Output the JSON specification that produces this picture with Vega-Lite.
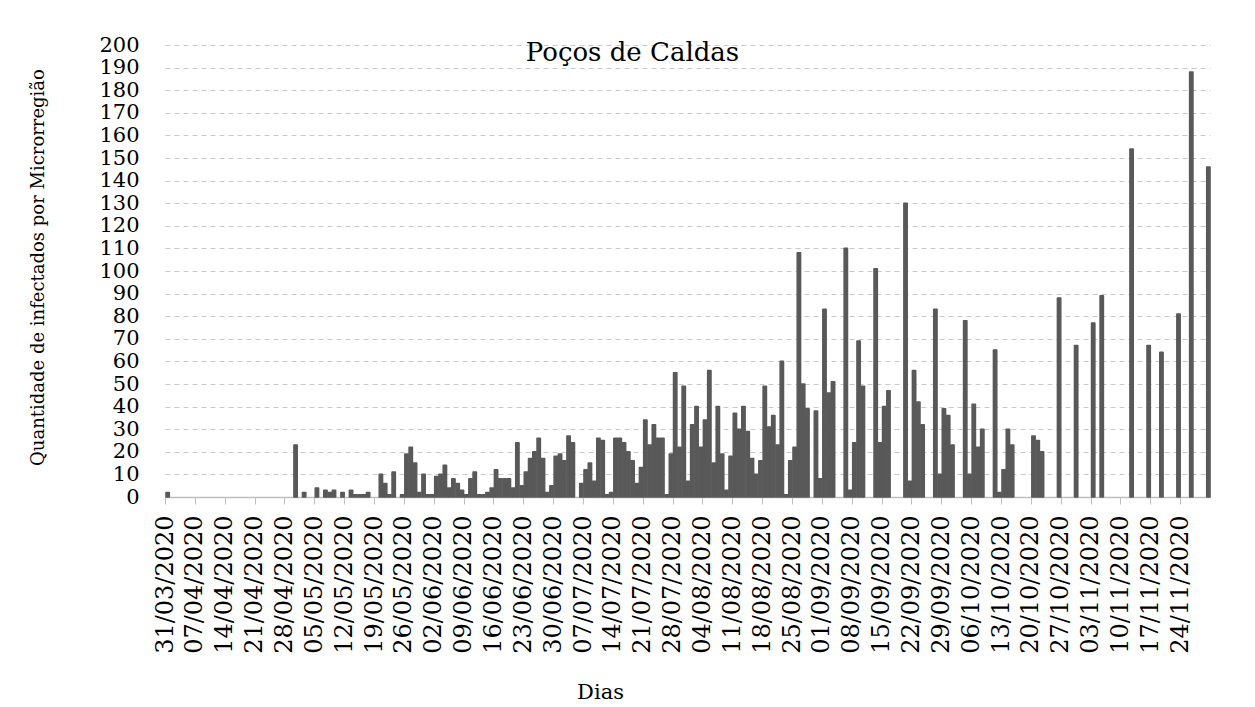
{
  "$schema": "https://vega.github.io/schema/vega-lite/v6.json",
  "width": 1045,
  "height": 452,
  "autosize": {"type": "none"},
  "padding": {"left": 165, "top": 45, "right": 45, "bottom": 210},
  "background": "white",
  "config": {"view": {"stroke": null}},
  "title": {"text": "Poços de Caldas", "font": "DejaVu Serif", "fontSize": 26, "fontWeight": "normal", "color": "black", "anchor": "middle", "frame": "group", "dx": -55, "offset": 0, "baseline": "alphabetic", "dy": 53},
  "data": {"values": [
    {"data": "2020-03-31", "casos": 2},
    {"data": "2020-04-30", "casos": 23},
    {"data": "2020-05-02", "casos": 2},
    {"data": "2020-05-05", "casos": 4},
    {"data": "2020-05-07", "casos": 3},
    {"data": "2020-05-08", "casos": 2},
    {"data": "2020-05-09", "casos": 3},
    {"data": "2020-05-11", "casos": 2},
    {"data": "2020-05-13", "casos": 3},
    {"data": "2020-05-14", "casos": 1},
    {"data": "2020-05-15", "casos": 1},
    {"data": "2020-05-16", "casos": 1},
    {"data": "2020-05-17", "casos": 2},
    {"data": "2020-05-20", "casos": 10},
    {"data": "2020-05-21", "casos": 6},
    {"data": "2020-05-22", "casos": 1},
    {"data": "2020-05-23", "casos": 11},
    {"data": "2020-05-25", "casos": 1},
    {"data": "2020-05-26", "casos": 19},
    {"data": "2020-05-27", "casos": 22},
    {"data": "2020-05-28", "casos": 15},
    {"data": "2020-05-29", "casos": 2},
    {"data": "2020-05-30", "casos": 10},
    {"data": "2020-05-31", "casos": 1},
    {"data": "2020-06-01", "casos": 1},
    {"data": "2020-06-02", "casos": 9},
    {"data": "2020-06-03", "casos": 10},
    {"data": "2020-06-04", "casos": 14},
    {"data": "2020-06-05", "casos": 4},
    {"data": "2020-06-06", "casos": 8},
    {"data": "2020-06-07", "casos": 6},
    {"data": "2020-06-08", "casos": 3},
    {"data": "2020-06-09", "casos": 1},
    {"data": "2020-06-10", "casos": 8},
    {"data": "2020-06-11", "casos": 11},
    {"data": "2020-06-12", "casos": 1},
    {"data": "2020-06-13", "casos": 1},
    {"data": "2020-06-14", "casos": 2},
    {"data": "2020-06-15", "casos": 4},
    {"data": "2020-06-16", "casos": 12},
    {"data": "2020-06-17", "casos": 8},
    {"data": "2020-06-18", "casos": 8},
    {"data": "2020-06-19", "casos": 8},
    {"data": "2020-06-20", "casos": 4},
    {"data": "2020-06-21", "casos": 24},
    {"data": "2020-06-22", "casos": 5},
    {"data": "2020-06-23", "casos": 11},
    {"data": "2020-06-24", "casos": 17},
    {"data": "2020-06-25", "casos": 20},
    {"data": "2020-06-26", "casos": 26},
    {"data": "2020-06-27", "casos": 17},
    {"data": "2020-06-28", "casos": 2},
    {"data": "2020-06-29", "casos": 5},
    {"data": "2020-06-30", "casos": 18},
    {"data": "2020-07-01", "casos": 19},
    {"data": "2020-07-02", "casos": 16},
    {"data": "2020-07-03", "casos": 27},
    {"data": "2020-07-04", "casos": 24},
    {"data": "2020-07-06", "casos": 6},
    {"data": "2020-07-07", "casos": 12},
    {"data": "2020-07-08", "casos": 15},
    {"data": "2020-07-09", "casos": 7},
    {"data": "2020-07-10", "casos": 26},
    {"data": "2020-07-11", "casos": 25},
    {"data": "2020-07-12", "casos": 1},
    {"data": "2020-07-13", "casos": 2},
    {"data": "2020-07-14", "casos": 26},
    {"data": "2020-07-15", "casos": 26},
    {"data": "2020-07-16", "casos": 24},
    {"data": "2020-07-17", "casos": 20},
    {"data": "2020-07-18", "casos": 16},
    {"data": "2020-07-19", "casos": 6},
    {"data": "2020-07-20", "casos": 13},
    {"data": "2020-07-21", "casos": 34},
    {"data": "2020-07-22", "casos": 23},
    {"data": "2020-07-23", "casos": 32},
    {"data": "2020-07-24", "casos": 26},
    {"data": "2020-07-25", "casos": 26},
    {"data": "2020-07-26", "casos": 1},
    {"data": "2020-07-27", "casos": 19},
    {"data": "2020-07-28", "casos": 55},
    {"data": "2020-07-29", "casos": 22},
    {"data": "2020-07-30", "casos": 49},
    {"data": "2020-07-31", "casos": 7},
    {"data": "2020-08-01", "casos": 32},
    {"data": "2020-08-02", "casos": 40},
    {"data": "2020-08-03", "casos": 22},
    {"data": "2020-08-04", "casos": 34},
    {"data": "2020-08-05", "casos": 56},
    {"data": "2020-08-06", "casos": 15},
    {"data": "2020-08-07", "casos": 40},
    {"data": "2020-08-08", "casos": 19},
    {"data": "2020-08-09", "casos": 3},
    {"data": "2020-08-10", "casos": 18},
    {"data": "2020-08-11", "casos": 37},
    {"data": "2020-08-12", "casos": 30},
    {"data": "2020-08-13", "casos": 40},
    {"data": "2020-08-14", "casos": 29},
    {"data": "2020-08-15", "casos": 17},
    {"data": "2020-08-16", "casos": 10},
    {"data": "2020-08-17", "casos": 16},
    {"data": "2020-08-18", "casos": 49},
    {"data": "2020-08-19", "casos": 31},
    {"data": "2020-08-20", "casos": 36},
    {"data": "2020-08-21", "casos": 23},
    {"data": "2020-08-22", "casos": 60},
    {"data": "2020-08-23", "casos": 1},
    {"data": "2020-08-24", "casos": 16},
    {"data": "2020-08-25", "casos": 22},
    {"data": "2020-08-26", "casos": 108},
    {"data": "2020-08-27", "casos": 50},
    {"data": "2020-08-28", "casos": 39},
    {"data": "2020-08-30", "casos": 38},
    {"data": "2020-08-31", "casos": 8},
    {"data": "2020-09-01", "casos": 83},
    {"data": "2020-09-02", "casos": 46},
    {"data": "2020-09-03", "casos": 51},
    {"data": "2020-09-06", "casos": 110},
    {"data": "2020-09-07", "casos": 3},
    {"data": "2020-09-08", "casos": 24},
    {"data": "2020-09-09", "casos": 69},
    {"data": "2020-09-10", "casos": 49},
    {"data": "2020-09-13", "casos": 101},
    {"data": "2020-09-14", "casos": 24},
    {"data": "2020-09-15", "casos": 40},
    {"data": "2020-09-16", "casos": 47},
    {"data": "2020-09-20", "casos": 130},
    {"data": "2020-09-21", "casos": 7},
    {"data": "2020-09-22", "casos": 56},
    {"data": "2020-09-23", "casos": 42},
    {"data": "2020-09-24", "casos": 32},
    {"data": "2020-09-27", "casos": 83},
    {"data": "2020-09-28", "casos": 10},
    {"data": "2020-09-29", "casos": 39},
    {"data": "2020-09-30", "casos": 36},
    {"data": "2020-10-01", "casos": 23},
    {"data": "2020-10-04", "casos": 78},
    {"data": "2020-10-05", "casos": 10},
    {"data": "2020-10-06", "casos": 41},
    {"data": "2020-10-07", "casos": 22},
    {"data": "2020-10-08", "casos": 30},
    {"data": "2020-10-11", "casos": 65},
    {"data": "2020-10-12", "casos": 2},
    {"data": "2020-10-13", "casos": 12},
    {"data": "2020-10-14", "casos": 30},
    {"data": "2020-10-15", "casos": 23},
    {"data": "2020-10-20", "casos": 27},
    {"data": "2020-10-21", "casos": 25},
    {"data": "2020-10-22", "casos": 20},
    {"data": "2020-10-26", "casos": 88},
    {"data": "2020-10-30", "casos": 67},
    {"data": "2020-11-03", "casos": 77},
    {"data": "2020-11-05", "casos": 89},
    {"data": "2020-11-12", "casos": 154},
    {"data": "2020-11-16", "casos": 67},
    {"data": "2020-11-19", "casos": 64},
    {"data": "2020-11-23", "casos": 81},
    {"data": "2020-11-26", "casos": 188},
    {"data": "2020-11-30", "casos": 146}
  ]},
  "mark": {"type": "bar", "color": "#595959", "stroke": "#595959", "strokeWidth": 1.6, "strokeJoin": "round"},
  "encoding": {
    "x": {
      "field": "data",
      "type": "temporal",
      "timeUnit": "utcyearmonthdate",
      "title": "Dias",
      "scale": {"type": "utc", "domain": [{"year": 2020, "month": 3, "date": 31, "utc": true}, {"year": 2020, "month": 12, "date": 1, "utc": true}]},
      "axis": {
        "values": [
          {"year": 2020, "month": 3, "date": 31, "utc": true},
          {"year": 2020, "month": 4, "date": 7, "utc": true},
          {"year": 2020, "month": 4, "date": 14, "utc": true},
          {"year": 2020, "month": 4, "date": 21, "utc": true},
          {"year": 2020, "month": 4, "date": 28, "utc": true},
          {"year": 2020, "month": 5, "date": 5, "utc": true},
          {"year": 2020, "month": 5, "date": 12, "utc": true},
          {"year": 2020, "month": 5, "date": 19, "utc": true},
          {"year": 2020, "month": 5, "date": 26, "utc": true},
          {"year": 2020, "month": 6, "date": 2, "utc": true},
          {"year": 2020, "month": 6, "date": 9, "utc": true},
          {"year": 2020, "month": 6, "date": 16, "utc": true},
          {"year": 2020, "month": 6, "date": 23, "utc": true},
          {"year": 2020, "month": 6, "date": 30, "utc": true},
          {"year": 2020, "month": 7, "date": 7, "utc": true},
          {"year": 2020, "month": 7, "date": 14, "utc": true},
          {"year": 2020, "month": 7, "date": 21, "utc": true},
          {"year": 2020, "month": 7, "date": 28, "utc": true},
          {"year": 2020, "month": 8, "date": 4, "utc": true},
          {"year": 2020, "month": 8, "date": 11, "utc": true},
          {"year": 2020, "month": 8, "date": 18, "utc": true},
          {"year": 2020, "month": 8, "date": 25, "utc": true},
          {"year": 2020, "month": 9, "date": 1, "utc": true},
          {"year": 2020, "month": 9, "date": 8, "utc": true},
          {"year": 2020, "month": 9, "date": 15, "utc": true},
          {"year": 2020, "month": 9, "date": 22, "utc": true},
          {"year": 2020, "month": 9, "date": 29, "utc": true},
          {"year": 2020, "month": 10, "date": 6, "utc": true},
          {"year": 2020, "month": 10, "date": 13, "utc": true},
          {"year": 2020, "month": 10, "date": 20, "utc": true},
          {"year": 2020, "month": 10, "date": 27, "utc": true},
          {"year": 2020, "month": 11, "date": 3, "utc": true},
          {"year": 2020, "month": 11, "date": 10, "utc": true},
          {"year": 2020, "month": 11, "date": 17, "utc": true},
          {"year": 2020, "month": 11, "date": 24, "utc": true}
        ],
        "format": "%d/%m/%Y",
        "labelAngle": -90,
        "labelFont": "DejaVu Serif",
        "labelFontSize": 24,
        "labelColor": "black",
        "labelPadding": 11,
        "labelOverlap": false,
        "labelBound": false,
        "labelFlush": false,
        "tickColor": "#BFBFBF",
        "tickSize": 7,
        "domainColor": "#BFBFBF",
        "domainWidth": 1.5,
        "grid": false,
        "titleFont": "DejaVu Serif",
        "titleFontSize": 21,
        "titleFontWeight": "normal",
        "titleColor": "black",
        "titleX": 435,
        "titleY": 201,
        "titleAlign": "center",
        "titleBaseline": "alphabetic"
      }
    },
    "y": {
      "field": "casos",
      "type": "quantitative",
      "title": "Quantidade de infectados por Microrregião",
      "scale": {"domain": [0, 200], "nice": false},
      "axis": {
        "values": [0, 10, 20, 30, 40, 50, 60, 70, 80, 90, 100, 110, 120, 130, 140, 150, 160, 170, 180, 190, 200],
        "labelFont": "DejaVu Serif",
        "labelFontSize": 21,
        "labelColor": "black",
        "labelPadding": 26,
        "ticks": false,
        "domain": false,
        "grid": true,
        "gridDash": [5, 4],
        "gridColor": "#C8C8C8",
        "gridWidth": 1,
        "titleFont": "DejaVu Serif",
        "titleFontSize": 18,
        "titleFontWeight": "normal",
        "titleColor": "black",
        "titleAngle": -90,
        "titleX": -127,
        "titleY": 222,
        "titleAlign": "center",
        "titleBaseline": "middle"
      }
    }
  }
}
